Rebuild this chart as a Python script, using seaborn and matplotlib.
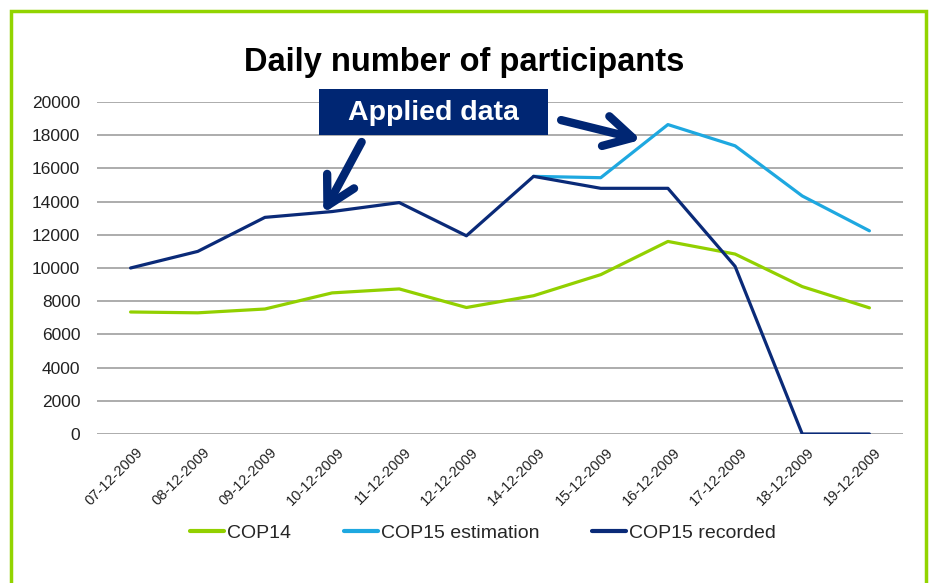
import numpy as np
import pandas as pd
import matplotlib
matplotlib.use("Agg")
import matplotlib.pyplot as plt
import seaborn as sns
from matplotlib.patches import Rectangle
from matplotlib.transforms import ScaledTranslation

# -----------------------------
# Data
# -----------------------------
dates = ["07-12-2009", "08-12-2009", "09-12-2009", "10-12-2009", "11-12-2009",
         "12-12-2009", "14-12-2009", "15-12-2009", "16-12-2009", "17-12-2009",
         "18-12-2009", "19-12-2009"]
cop14 = [7350, 7300, 7530, 8500, 8740, 7620, 8330, 9600, 11600, 10840, 8880, 7600]
cop15_estimation = [np.nan, np.nan, np.nan, np.nan, np.nan, np.nan,
                    15520, 15440, 18640, 17360, 14340, 12240]
cop15_recorded = [10000, 11000, 13050, 13400, 13940, 11940,
                  15520, 14800, 14800, 10100, 0, 0]

series_names = ["COP14", "COP15 estimation", "COP15 recorded"]
series_colors = ["#92d000", "#1ea8e0", "#0a2a78"]
navy = "#002673"

df = pd.DataFrame({
    "date": dates * 3,
    "x": list(range(len(dates))) * 3,
    "value": cop14 + cop15_estimation + cop15_recorded,
    "series": [n for n in series_names for _ in dates],
})

sns.set_theme(style="white")
plt.rcParams["font.family"] = ["Liberation Sans", "DejaVu Sans"]

fig = plt.figure(figsize=(9.33, 5.83), dpi=100)
ax = fig.add_axes([97 / 933, 1 - 434 / 583, 806 / 933, 332 / 583])

sns.lineplot(
    data=df, x="x", y="value", hue="series", hue_order=series_names,
    palette=series_colors, linewidth=2.3, ax=ax, legend=False,
)

ax.set_xlim(-0.5, len(dates) - 0.5)
ax.set_ylim(0, 20000)
ax.set_yticks(np.arange(0, 20001, 2000))
ax.set_yticklabels([str(v) for v in range(0, 20001, 2000)], fontsize=12.5, color="#222222")
ax.set_xticks(range(len(dates)))
ax.set_xticklabels(dates, rotation=45, ha="right", rotation_mode="anchor",
                   fontsize=10.5, color="#222222")
ax.tick_params(axis="y", length=0, pad=12)
ax.tick_params(axis="x", length=0, pad=6)
# nudge the rotated date labels like the original
offset = ScaledTranslation(5 / 100, -3 / 100, fig.dpi_scale_trans)
for lab in ax.get_xticklabels():
    lab.set_transform(lab.get_transform() + offset)
ax.set_xlabel("")
ax.set_ylabel("")
ax.yaxis.grid(True, color="#a6a6a6", linewidth=1.3)
ax.set_axisbelow(True)
for s in ax.spines.values():
    s.set_visible(False)

fig.text(0.498, 1 - 62 / 583, "Daily number of participants", ha="center", va="center",
         fontsize=23.5, fontweight="bold", color="black")

# "Applied data" box
fig.add_artist(Rectangle((319 / 933, 1 - 135 / 583), 229 / 933, 46 / 583,
                         transform=fig.transFigure, facecolor=navy,
                         edgecolor="none", zorder=5))
fig.text(433.5 / 933, 1 - 113 / 583, "Applied data", ha="center", va="center",
         fontsize=20.5, fontweight="bold", color="white", zorder=6)

arrow_kw = dict(arrowstyle="->,head_length=2.0,head_width=1.1", color=navy,
                lw=6, shrinkA=0, shrinkB=0, mutation_scale=10, capstyle="round",
                joinstyle="round")
ax.annotate("", xy=(2.87, 13300), xytext=(3.44, 17590),
            arrowprops=arrow_kw, annotation_clip=False)
ax.annotate("", xy=(7.6, 17720), xytext=(6.41, 18910),
            arrowprops=arrow_kw, annotation_clip=False)

# legend
handles = [plt.Line2D([], [], color=c, linewidth=3) for c in series_colors]
fig.legend(handles, series_names, loc="center", bbox_to_anchor=(483 / 933, 1 - 533 / 583),
           ncol=3, frameon=False, fontsize=14, handlelength=1.75, handletextpad=0.15,
           columnspacing=2.7)

# green frame around the figure
fig.add_artist(Rectangle((11 / 933, -0.05), 915 / 933, 1.05 - 11 / 583,
                         transform=fig.transFigure, facecolor="none",
                         edgecolor="#92d400", linewidth=2.5, zorder=0))

fig.savefig("out.png", dpi=100)
